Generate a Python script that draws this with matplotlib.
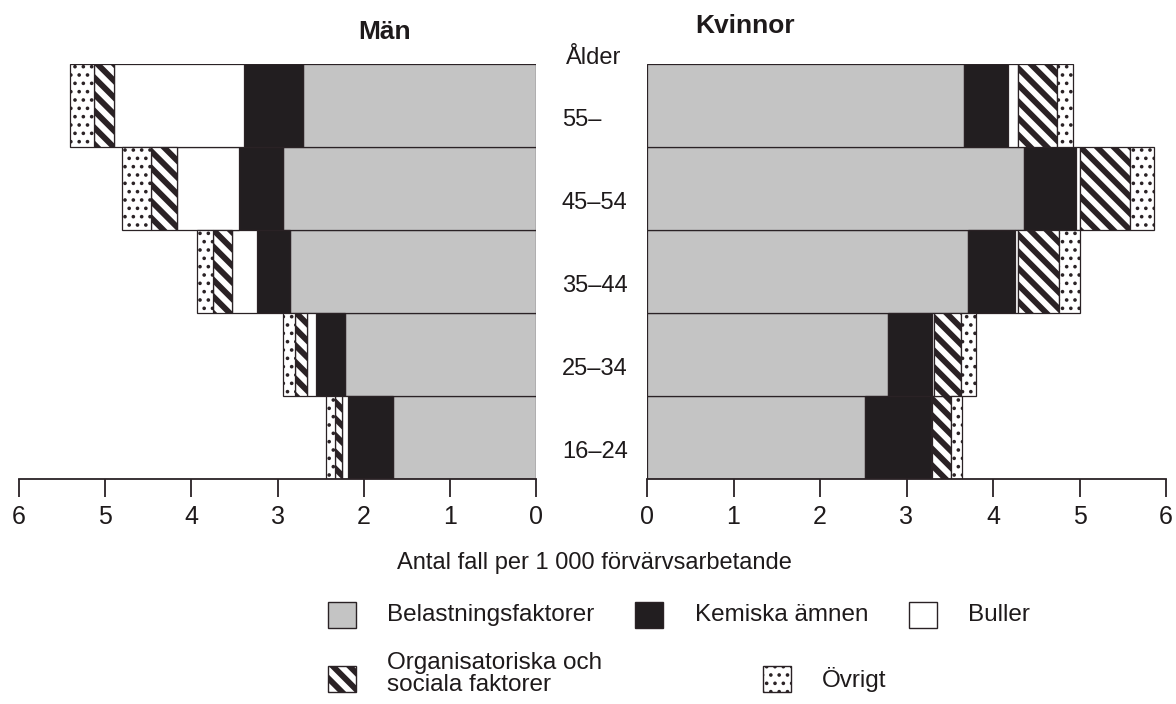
import numpy as np
import matplotlib
matplotlib.use('Agg')
import matplotlib.pyplot as plt
from matplotlib.patches import Rectangle
from matplotlib.transforms import blended_transform_factory

plt.rcParams['font.family'] = ['Liberation Sans', 'DejaVu Sans']

# åldersgrupper, nedifrån och upp
aldrar = ['16–24', '25–34', '35–44', '45–54', '55–']
serier = ['Belastningsfaktorer', 'Kemiska ämnen', 'Buller',
          'Organisatoriska och\nsociala faktorer', 'Övrigt']

# Män, antal fall per 1 000
man_belast = [1.66, 2.22, 2.85, 2.94, 2.70]
man_kemiska = [0.52, 0.33, 0.39, 0.51, 0.69]
man_buller = [0.07, 0.11, 0.29, 0.72, 1.51]
man_org = [0.08, 0.14, 0.22, 0.30, 0.23]
man_ovrigt = [0.11, 0.14, 0.18, 0.34, 0.28]

# Kvinnor
kv_belast = [2.52, 2.79, 3.71, 4.36, 3.67]
kv_kemiska = [0.76, 0.50, 0.55, 0.60, 0.50]
kv_buller = [0.02, 0.03, 0.03, 0.04, 0.12]
kv_org = [0.22, 0.31, 0.47, 0.58, 0.45]
kv_ovrigt = [0.12, 0.17, 0.24, 0.28, 0.18]

EDGE = '#2a2225'
TXT = '#1e1a1b'
stilar = [
    dict(fc='#c4c4c4', hatch=None, hlw=1.0),
    dict(fc='#221e20', hatch=None, hlw=1.0),
    dict(fc='white', hatch=None, hlw=1.0),
    dict(fc='white', hatch='\\\\', hlw=4.2),
    dict(fc='white', hatch='..', hlw=1.4),
]

W, H = 1176, 704
fig = plt.figure(figsize=(W / 100, H / 100), dpi=100)
fig.patch.set_facecolor('white')


def px(x, y):
    return x / W, 1 - y / H


def rita(ax, varden):
    y = np.arange(len(aldrar))
    vanster = np.zeros(len(aldrar))
    for v, st in zip(varden, stilar):
        with plt.rc_context({'hatch.linewidth': st['hlw']}):
            ax.barh(y, v, left=vanster, height=1.0, color=st['fc'],
                    edgecolor=EDGE, linewidth=0.9, hatch=st['hatch'])
        vanster += np.array(v)
    ax.set_ylim(-0.5, len(aldrar) - 0.5)
    ax.set_yticks([])
    for s in ['top', 'left', 'right']:
        ax.spines[s].set_visible(False)
    ax.spines['bottom'].set_linewidth(1.3)
    ax.spines['bottom'].set_color(EDGE)
    ax.set_xticks(range(7))
    ax.tick_params(axis='x', direction='out', length=13, width=1.3,
                   color=EDGE, labelsize=18, pad=6, labelcolor=TXT)


bottom = 1 - 479 / H
top = 1 - 64 / H
ax_m = fig.add_axes([19 / W, bottom, 517 / W, top - bottom])
ax_k = fig.add_axes([647 / W, bottom, 519 / W, top - bottom])

rita(ax_m, [man_belast, man_kemiska, man_buller, man_org, man_ovrigt])
ax_m.set_xlim(6, 0)
rita(ax_k, [kv_belast, kv_kemiska, kv_buller, kv_org, kv_ovrigt])
ax_k.set_xlim(0, 6)

# rubriker
fig.text(*px(385, 32), 'Män', ha='center', va='center', fontsize=19,
         fontweight='bold', color=TXT)
fig.text(*px(745, 26), 'Kvinnor', ha='center', va='center', fontsize=19,
         fontweight='bold', color=TXT)
fig.text(*px(566, 58), 'Ålder', ha='left', va='center', fontsize=17,
         color=TXT)

trans = blended_transform_factory(fig.transFigure, ax_m.transData)
for i, a in enumerate(aldrar):
    ax_m.text(562 / W, i - 0.18, a, transform=trans, ha='left', va='center',
              fontsize=17, color=TXT, clip_on=False)

fig.text(*px(594, 563), 'Antal fall per 1 000 förvärvsarbetande',
         ha='center', va='center', fontsize=17, color=TXT)

# teckenförklaring
leg = fig.add_axes([0, 0, 1, 1])
leg.set_xlim(0, W)
leg.set_ylim(H, 0)
leg.axis('off')
leg.patch.set_alpha(0)

poster = [(328, 615, 387, 615), (635, 615, 695, 615), (909, 615, 968, 615),
          (328, 679, 387, 674), (763, 679, 822, 680)]
for (sx, sy, tx, ty), namn, st in zip(poster, serier, stilar):
    with plt.rc_context({'hatch.linewidth': st['hlw']}):
        leg.add_patch(Rectangle((sx, sy - 13), 28, 26, facecolor=st['fc'],
                                edgecolor=EDGE, linewidth=1.0,
                                hatch=st['hatch']))
    leg.text(tx, ty, namn, ha='left', va='center', fontsize=17.5,
             color=TXT, linespacing=1.05)

fig.savefig('out.png', dpi=100)
